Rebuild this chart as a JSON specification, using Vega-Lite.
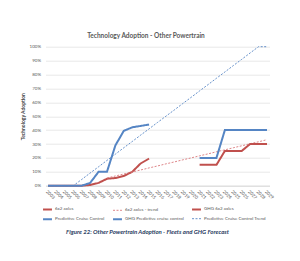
{
  "$schema": "https://vega.github.io/schema/vega-lite/v6.json",
  "autosize": "none",
  "width": 224,
  "height": 139,
  "padding": {"left": 45.5, "top": 46.7, "right": 30.5, "bottom": 75.3},
  "background": "white",
  "config": {
    "font": "Lato",
    "view": {"stroke": null}
  },
  "title": {
    "text": "Technology Adoption - Other Powertrain",
    "fontSize": 6.5,
    "fontWeight": "bold",
    "color": "#595959",
    "offset": 4,
    "dx": -11.5
  },
  "data": {
    "values": [
      {"year": 2003, "series": "6x2 axles", "value": 0},
      {"year": 2004, "series": "6x2 axles", "value": 0},
      {"year": 2005, "series": "6x2 axles", "value": 0},
      {"year": 2006, "series": "6x2 axles", "value": 0},
      {"year": 2007, "series": "6x2 axles", "value": 0},
      {"year": 2008, "series": "6x2 axles", "value": 0.5},
      {"year": 2009, "series": "6x2 axles", "value": 2},
      {"year": 2010, "series": "6x2 axles", "value": 5},
      {"year": 2011, "series": "6x2 axles", "value": 5.5},
      {"year": 2012, "series": "6x2 axles", "value": 7},
      {"year": 2013, "series": "6x2 axles", "value": 10},
      {"year": 2014, "series": "6x2 axles", "value": 16},
      {"year": 2015, "series": "6x2 axles", "value": 19.5},

      {"year": 2010, "series": "6x2 axles - trend", "value": 5.5},
      {"year": 2011, "series": "6x2 axles - trend", "value": 7.0},
      {"year": 2012, "series": "6x2 axles - trend", "value": 8.4},
      {"year": 2013, "series": "6x2 axles - trend", "value": 9.9},
      {"year": 2014, "series": "6x2 axles - trend", "value": 11.3},
      {"year": 2015, "series": "6x2 axles - trend", "value": 12.8},
      {"year": 2016, "series": "6x2 axles - trend", "value": 14.2},
      {"year": 2017, "series": "6x2 axles - trend", "value": 15.7},
      {"year": 2018, "series": "6x2 axles - trend", "value": 17.1},
      {"year": 2019, "series": "6x2 axles - trend", "value": 18.6},
      {"year": 2020, "series": "6x2 axles - trend", "value": 20.0},
      {"year": 2021, "series": "6x2 axles - trend", "value": 21.5},
      {"year": 2022, "series": "6x2 axles - trend", "value": 22.9},
      {"year": 2023, "series": "6x2 axles - trend", "value": 24.4},
      {"year": 2024, "series": "6x2 axles - trend", "value": 25.8},
      {"year": 2025, "series": "6x2 axles - trend", "value": 27.3},
      {"year": 2026, "series": "6x2 axles - trend", "value": 28.7},
      {"year": 2027, "series": "6x2 axles - trend", "value": 30.2},
      {"year": 2028, "series": "6x2 axles - trend", "value": 31.6},
      {"year": 2029, "series": "6x2 axles - trend", "value": 33.1},

      {"year": 2021, "series": "GHG 6x2 axles", "value": 15},
      {"year": 2022, "series": "GHG 6x2 axles", "value": 15},
      {"year": 2023, "series": "GHG 6x2 axles", "value": 15},
      {"year": 2024, "series": "GHG 6x2 axles", "value": 25},
      {"year": 2025, "series": "GHG 6x2 axles", "value": 25},
      {"year": 2026, "series": "GHG 6x2 axles", "value": 25},
      {"year": 2027, "series": "GHG 6x2 axles", "value": 30},
      {"year": 2028, "series": "GHG 6x2 axles", "value": 30},
      {"year": 2029, "series": "GHG 6x2 axles", "value": 30},

      {"year": 2003, "series": "Predictive Cruise Control", "value": 0},
      {"year": 2004, "series": "Predictive Cruise Control", "value": 0},
      {"year": 2005, "series": "Predictive Cruise Control", "value": 0},
      {"year": 2006, "series": "Predictive Cruise Control", "value": 0},
      {"year": 2007, "series": "Predictive Cruise Control", "value": 0},
      {"year": 2008, "series": "Predictive Cruise Control", "value": 2},
      {"year": 2009, "series": "Predictive Cruise Control", "value": 10},
      {"year": 2010, "series": "Predictive Cruise Control", "value": 10},
      {"year": 2011, "series": "Predictive Cruise Control", "value": 29},
      {"year": 2012, "series": "Predictive Cruise Control", "value": 39.5},
      {"year": 2013, "series": "Predictive Cruise Control", "value": 42},
      {"year": 2014, "series": "Predictive Cruise Control", "value": 43},
      {"year": 2015, "series": "Predictive Cruise Control", "value": 44},

      {"year": 2021, "series": "GHG Predictive cruise control", "value": 20},
      {"year": 2022, "series": "GHG Predictive cruise control", "value": 20},
      {"year": 2023, "series": "GHG Predictive cruise control", "value": 20},
      {"year": 2024, "series": "GHG Predictive cruise control", "value": 40},
      {"year": 2025, "series": "GHG Predictive cruise control", "value": 40},
      {"year": 2026, "series": "GHG Predictive cruise control", "value": 40},
      {"year": 2027, "series": "GHG Predictive cruise control", "value": 40},
      {"year": 2028, "series": "GHG Predictive cruise control", "value": 40},
      {"year": 2029, "series": "GHG Predictive cruise control", "value": 40},

      {"year": 2003, "series": "Predictive Cruise Control Trend", "value": 0},
      {"year": 2004, "series": "Predictive Cruise Control Trend", "value": 0},
      {"year": 2005, "series": "Predictive Cruise Control Trend", "value": 0},
      {"year": 2006, "series": "Predictive Cruise Control Trend", "value": 0},
      {"year": 2007, "series": "Predictive Cruise Control Trend", "value": 4.5},
      {"year": 2008, "series": "Predictive Cruise Control Trend", "value": 9.1},
      {"year": 2009, "series": "Predictive Cruise Control Trend", "value": 13.6},
      {"year": 2010, "series": "Predictive Cruise Control Trend", "value": 18.2},
      {"year": 2011, "series": "Predictive Cruise Control Trend", "value": 22.7},
      {"year": 2012, "series": "Predictive Cruise Control Trend", "value": 27.3},
      {"year": 2013, "series": "Predictive Cruise Control Trend", "value": 31.8},
      {"year": 2014, "series": "Predictive Cruise Control Trend", "value": 36.4},
      {"year": 2015, "series": "Predictive Cruise Control Trend", "value": 40.9},
      {"year": 2016, "series": "Predictive Cruise Control Trend", "value": 45.5},
      {"year": 2017, "series": "Predictive Cruise Control Trend", "value": 50.0},
      {"year": 2018, "series": "Predictive Cruise Control Trend", "value": 54.5},
      {"year": 2019, "series": "Predictive Cruise Control Trend", "value": 59.1},
      {"year": 2020, "series": "Predictive Cruise Control Trend", "value": 63.6},
      {"year": 2021, "series": "Predictive Cruise Control Trend", "value": 68.2},
      {"year": 2022, "series": "Predictive Cruise Control Trend", "value": 72.7},
      {"year": 2023, "series": "Predictive Cruise Control Trend", "value": 77.3},
      {"year": 2024, "series": "Predictive Cruise Control Trend", "value": 81.8},
      {"year": 2025, "series": "Predictive Cruise Control Trend", "value": 86.4},
      {"year": 2026, "series": "Predictive Cruise Control Trend", "value": 90.9},
      {"year": 2027, "series": "Predictive Cruise Control Trend", "value": 95.5},
      {"year": 2028, "series": "Predictive Cruise Control Trend", "value": 100},
      {"year": 2029, "series": "Predictive Cruise Control Trend", "value": 100}
    ]
  },
  "mark": {"type": "line"},
  "encoding": {
    "x": {
      "field": "year",
      "type": "ordinal",
      "scale": {"type": "point", "padding": 0.3},
      "axis": {
        "title": "Figure 22:  Other Powertrain Adoption - Fleets and GHG Forecast",
        "titleFontSize": 6,
        "titleFontWeight": "bold",
        "titleFontStyle": "italic",
        "titleColor": "#1F3A60",
        "titleBaseline": "middle",
        "titleAlign": "center",
        "titleX": 101.5,
        "titleY": 46,
        "labelAngle": 45,
        "labelFontSize": 4.5,
        "labelColor": "#595959",
        "labelPadding": 3,
        "ticks": false,
        "domainColor": "#D9D9D9",
        "grid": false
      }
    },
    "y": {
      "field": "value",
      "type": "quantitative",
      "scale": {"domain": [0, 100]},
      "axis": {
        "title": "Technology Adoption",
        "titleFontSize": 5,
        "titleFontWeight": "bold",
        "titleColor": "#404040",
        "titlePadding": 4,
        "values": [0, 10, 20, 30, 40, 50, 60, 70, 80, 90, 100],
        "labelExpr": "datum.value + '%'",
        "labelFontSize": 4.5,
        "labelColor": "#595959",
        "labelPadding": 5,
        "ticks": false,
        "domain": false,
        "gridColor": "#D9D9D9",
        "gridWidth": 0.6
      }
    },
    "color": {
      "field": "series",
      "type": "nominal",
      "title": null,
      "scale": {
        "domain": ["6x2 axles", "6x2 axles - trend", "GHG 6x2 axles", "Predictive Cruise Control", "GHG Predictive cruise control", "Predictive Cruise Control Trend"],
        "range": ["#C0504D", "#D9777A", "#C0504D", "#5585C4", "#5585C4", "#5585C4"]
      },
      "legend": {
        "orient": "none",
        "legendX": -3.5,
        "legendY": 157,
        "direction": "horizontal",
        "columns": 3,
        "columnPadding": 4,
        "rowPadding": 0,
        "labelFontSize": 4.5,
        "labelColor": "#595959",
        "symbolType": "stroke",
        "symbolSize": 80,
        "symbolStrokeWidth": 1.5,
        "labelOffset": 2
      }
    },
    "strokeDash": {
      "field": "series",
      "type": "nominal",
      "title": null,
      "scale": {
        "domain": ["6x2 axles", "6x2 axles - trend", "GHG 6x2 axles", "Predictive Cruise Control", "GHG Predictive cruise control", "Predictive Cruise Control Trend"],
        "range": [[1, 0], [2, 1.5], [1, 0], [1, 0], [1, 0], [2, 1.5]]
      }
    },
    "strokeWidth": {
      "field": "series",
      "type": "nominal",
      "title": null,
      "scale": {
        "type": "ordinal",
        "domain": ["6x2 axles", "6x2 axles - trend", "GHG 6x2 axles", "Predictive Cruise Control", "GHG Predictive cruise control", "Predictive Cruise Control Trend"],
        "range": [2, 0.9, 2, 2, 2, 0.9]
      },
      "legend": null
    }
  }
}
